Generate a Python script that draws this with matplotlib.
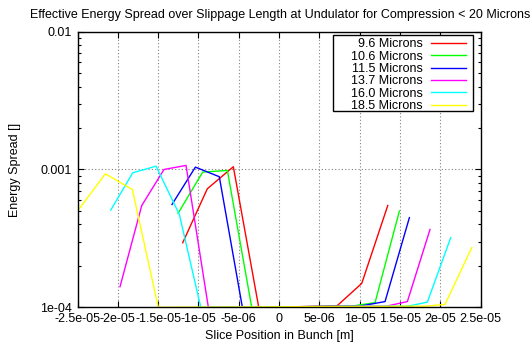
import matplotlib
matplotlib.use("Agg")
import matplotlib.pyplot as plt
from matplotlib.patches import Rectangle

plt.rcParams['font.family'] = ['Liberation Sans', 'DejaVu Sans']

# データ
labels = ['9.6 Microns', '10.6 Microns', '11.5 Microns',
          '13.7 Microns', '16.0 Microns', '18.5 Microns']
colors = ['#ff0000', '#00ff00', '#0000ff', '#ff00ff', '#00ffff', '#ffff00']

red_x = [-1.195e-5, -0.890e-5, -0.567e-5, -0.252e-5, 0.716e-5, 1.026e-5, 1.349e-5]
red_y = [2.94e-4, 7.24e-4, 1.047e-3, 1.0e-4, 1.02e-4, 1.49e-4, 5.48e-4]

green_x = [-1.253e-5, -0.947e-5, -0.641e-5, -0.339e-5, 0.902e-5, 1.191e-5, 1.493e-5]
green_y = [4.80e-4, 9.57e-4, 9.84e-4, 1.0e-4, 1.02e-4, 1.08e-4, 4.99e-4]

blue_x = [-1.328e-5, -1.038e-5, -0.741e-5, -0.455e-5, 1.005e-5, 1.315e-5, 1.617e-5]
blue_y = [5.57e-4, 1.04e-3, 8.86e-4, 1.0e-4, 1.02e-4, 1.10e-4, 4.47e-4]

magenta_x = [-1.973e-5, -1.703e-5, -1.427e-5, -1.154e-5, -0.877e-5, 1.336e-5, 1.592e-5, 1.873e-5]
magenta_y = [1.41e-4, 5.48e-4, 1.0e-3, 1.07e-3, 1.0e-4, 1.02e-4, 1.10e-4, 3.67e-4]

cyan_x = [-2.088e-5, -1.815e-5, -1.526e-5, -1.237e-5, -0.971e-5, 1.604e-5, 1.840e-5, 2.130e-5]
cyan_y = [5.07e-4, 9.46e-4, 1.057e-3, 4.72e-4, 1.0e-4, 1.02e-4, 1.09e-4, 3.20e-4]

yellow_x = [-2.478e-5, -2.155e-5, -1.820e-5, -1.498e-5, 1.833e-5, 2.060e-5, 2.391e-5]
yellow_y = [5.19e-4, 9.3e-4, 7.16e-4, 1.0e-4, 1.02e-4, 1.05e-4, 2.71e-4]

series_x = [red_x, green_x, blue_x, magenta_x, cyan_x, yellow_x]
series_y = [red_y, green_y, blue_y, magenta_y, cyan_y, yellow_y]

xticks = [-2.5e-5, -2e-5, -1.5e-5, -1e-5, -5e-6, 0, 5e-6, 1e-5, 1.5e-5, 2e-5, 2.5e-5]
xticklabels = ['-2.5e-05', '-2e-05', '-1.5e-05', '-1e-05', '-5e-06', '0',
               '5e-06', '1e-05', '1.5e-05', '2e-05', '2.5e-05']
yticks = [1e-4, 1e-3, 1e-2]
yticklabels = ['1e-04', '0.001', '0.01']

fig = plt.figure(figsize=(5.31, 3.48), dpi=100)
ax = fig.add_axes([0.146, 0.117, 0.759, 0.792])

for x, y, c, lab in zip(series_x, series_y, colors, labels):
    ax.plot(x, y, color=c, linewidth=1.0, label=lab)

ax.set_yscale('log')
ax.set_xlim(-2.5e-5, 2.5e-5)
ax.set_ylim(1e-4, 1e-2)
ax.set_xticks(xticks, xticklabels)
ax.set_yticks(yticks, yticklabels)

ax.tick_params(which='both', direction='in', top=True, right=True, labelsize=9)
ax.tick_params(which='major', length=4.5, width=0.8, pad=4)
ax.tick_params(which='minor', length=2.5, width=0.8)
ax.tick_params(axis='x', which='minor', bottom=False, top=False)

ax.grid(True, which='major', color='#808080', linestyle=(0, (1, 2)), linewidth=0.8)
for s in ax.spines.values():
    s.set_linewidth(1.0)

ax.set_xlabel('Slice Position in Bunch [m]', fontsize=9, labelpad=4)
ax.set_ylabel('Energy Spread []', fontsize=9, labelpad=14)
fig.text(0.527, 0.958, 'Effective Energy Spread over Slippage Length at Undulator for Compression < 20 Microns',
         ha='center', va='center', fontsize=9)

# 凡例の枠（gnuplot風）
ax.add_patch(Rectangle((0.633, 0.713), 0.348, 0.274, transform=ax.transAxes,
                       facecolor='white', edgecolor='black', linewidth=1.0, zorder=4))
leg = ax.legend(loc='upper right', bbox_to_anchor=(0.964, 0.976), borderaxespad=0,
                markerfirst=False, frameon=False, fontsize=9, handlelength=2.8,
                handletextpad=0.65, labelspacing=0.03, borderpad=0)
leg.set_zorder(5)

fig.savefig('out.png', dpi=100)
